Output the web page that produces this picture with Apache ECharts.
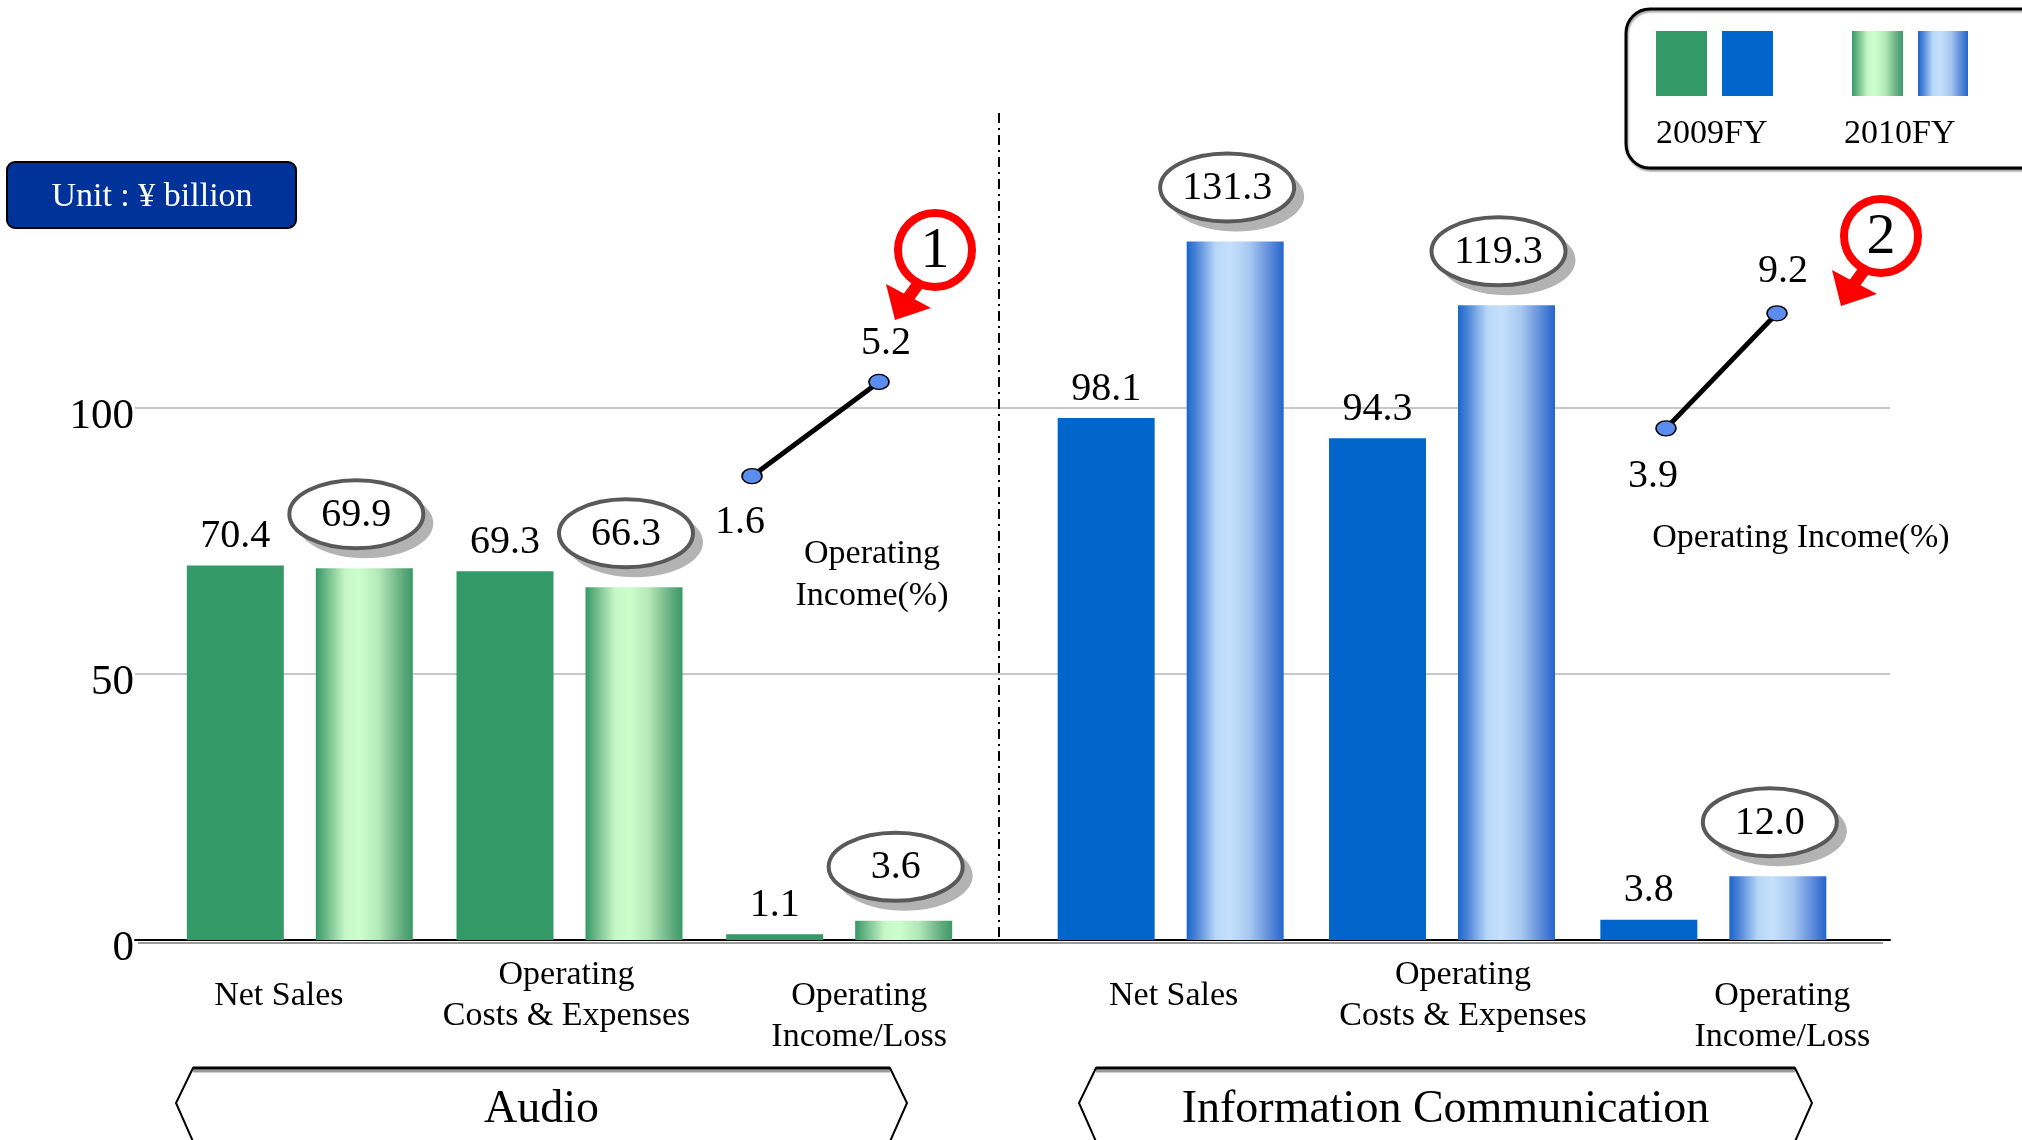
<!DOCTYPE html>
<html><head><meta charset="utf-8">
<script src="https://cdn.jsdelivr.net/npm/echarts@6/dist/echarts.min.js"></script>
<style>html,body{margin:0;padding:0;background:#fff}#c{width:2022px;height:1140px}</style>
</head><body><div id="c"></div>
<script>
// ---- data ----
const categories = ['Net Sales', 'Operating\nCosts & Expenses', 'Operating\nIncome/Loss'];
const segments = ['Audio', 'Information Communication'];
const years = ['2009FY', '2010FY'];
const audio2009 = [70.4, 69.3, 1.1];
const audio2010 = [69.9, 66.3, 3.6];
const info2009 = [98.1, 94.3, 3.8];
const info2010 = [131.3, 119.3, 12.0];
const audioMargin = [1.6, 5.2];
const infoMargin = [3.9, 9.2];
const yTicks = [0, 50, 100];
const unitLabel = 'Unit : ¥ billion';
const marginLabel = 'Operating Income(%)';
const callouts = ['1', '2'];

// ---- styles ----
const FONT = "'Liberation Serif','Times New Roman',serif";
const G09 = '#339966', B09 = '#0066cc';
const G10 = {type:'linear', x:0, y:0, x2:1, y2:0, colorStops:[
  {offset:0, color:'#339966'}, {offset:0.08, color:'#5fb07f'}, {offset:0.3, color:'#c6f6c6'},
  {offset:0.45, color:'#ccffcc'}, {offset:0.65, color:'#b5e8b8'}, {offset:0.9, color:'#5ea97c'}, {offset:1, color:'#3a9a68'}]};
const B10 = {type:'linear', x:0, y:0, x2:1, y2:0, colorStops:[
  {offset:0, color:'#1a66cc'}, {offset:0.1, color:'#4d84d8'}, {offset:0.3, color:'#b8d8f8'},
  {offset:0.45, color:'#c4e0fc'}, {offset:0.65, color:'#a8c8f0'}, {offset:0.9, color:'#4d7fd6'}, {offset:1, color:'#2266cc'}]};
const BAR_W = 97, BAR_GAP_PX = 32;
const ELL_DX = (BAR_W + BAR_GAP_PX) / 2 - 8, ELL_DY = 54;

function ellipseItem(params, api) {
  const p = api.coord([api.value(0), api.value(1)]);
  const cx = p[0] + ELL_DX, cy = p[1] - ELL_DY;
  return {type:'group', children:[
    {type:'ellipse', shape:{cx:cx+9, cy:cy+9, rx:68, ry:35}, style:{fill:'#b3b3b3'}},
    {type:'ellipse', shape:{cx:cx, cy:cy, rx:67, ry:34}, style:{fill:'#fff', stroke:'#595959', lineWidth:4}},
    {type:'text', x:cx, y:cy+1, style:{text:api.value(1).toFixed(1), fontSize:40, fontFamily:FONT, fill:'#000', align:'center', verticalAlign:'middle'}}
  ]};
}

function catAxis(gridIndex, dx) {
  const rich = {};
  dx.forEach((d, i) => {
    rich['k' + i] = {fontSize:34, lineHeight:41, fontFamily:FONT, color:'#000',
      padding: d < 0 ? [0, -2*d, 0, 0] : [0, 0, 0, 2*d]};
  });
  return {gridIndex, type:'category', data:categories,
    axisLine:{show:false}, axisTick:{show:false},
    axisLabel:{interval:0, margin:56, verticalAlign:'middle', lineHeight:41, fontSize:34, fontFamily:FONT, color:'#000',
      formatter:(v, idx) => {
        const lines = v.split('\n');
        if (idx === 2) lines.unshift(' ');
        return lines.map(l => '{k' + idx + '|' + l + '}').join('\n');
      }, rich}};
}

function barSeries(xi, d09, d10, c09, c10) {
  return [
    {type:'bar', xAxisIndex:xi, yAxisIndex:xi, data:d09, barWidth:BAR_W, barGap:(BAR_GAP_PX/BAR_W*100)+'%',
      itemStyle:{color:c09}, label:{show:true, position:'top', distance:9, fontSize:40, fontFamily:FONT, color:'#000'}},
    {type:'bar', xAxisIndex:xi, yAxisIndex:xi, data:d10, barWidth:BAR_W, itemStyle:{color:c10}},
    {type:'custom', xAxisIndex:xi, yAxisIndex:xi, data:d10.map((v, i) => [i, v]), renderItem:ellipseItem, z:5}
  ];
}

function lineSeries(xi, vals, labelCfg) {
  return {type:'line', xAxisIndex:xi, yAxisIndex:xi,
    data: vals.map((v, i) => ({value:v, label:Object.assign({show:true, fontSize:40, fontFamily:FONT, color:'#000'}, labelCfg[i])})),
    symbol:'circle', symbolSize:[20, 15],
    lineStyle:{color:'#000', width:5},
    itemStyle:{color:'#5b8def', borderColor:'#000', borderWidth:1.5}, z:6};
}

function arrow(cx, cy) {
  return [
    {type:'circle', shape:{cx, cy, r:37}, style:{fill:'#fff', stroke:'#ff0000', lineWidth:8}, z:20},
    {type:'line', shape:{x1:cx-16, y1:cy+33, x2:cx-27, y2:cy+48}, style:{stroke:'#ff0000', lineWidth:12}, z:20},
    {type:'polygon', shape:{points:[[cx-40, cy+70], [cx-49, cy+34], [cx-4, cy+58]]}, style:{fill:'#ff0000'}, z:20}
  ];
}

function segBox(x1, x2, text) {
  return [
    {type:'polyline', shape:{points:[[x1+2, 1146], [x1-17, 1103], [x1, 1068], [x2, 1068], [x2+17, 1103], [x2-2, 1146]]},
      style:{stroke:'#000', lineWidth:2, fill:null}, z:10},
    {type:'line', shape:{x1:x1, y1:1071, x2:x2, y2:1071}, style:{stroke:'#999', lineWidth:3}, z:9},
    {type:'line', shape:{x1:x1, y1:1068, x2:x2, y2:1068}, style:{stroke:'#000', lineWidth:3}, z:10},
    {type:'text', x:(x1+x2)/2, y:1110, style:{text, fontSize:46, fontFamily:FONT, fill:'#000', align:'center', verticalAlign:'middle'}, z:10}
  ];
}

const chart = echarts.init(document.getElementById('c'));
chart.setOption({
  backgroundColor:'#fff',
  animation:false,
  grid:[
    {left:135, right:132, top:408, bottom:200},
    {left:165, width:809, top:142, bottom:200},
    {left:1035, width:814, top:142, bottom:200},
    {left:752, width:127, top:361, bottom:622},
    {left:1666, width:111, top:296, bottom:627}
  ],
  xAxis:[
    {gridIndex:0, type:'category', data:[''], axisLine:{show:true, lineStyle:{color:'#000', width:2}}, axisTick:{show:false}, axisLabel:{show:false}},
    catAxis(1, [-21, -3, 20]),
    catAxis(2, [3, 21, 69]),
    {gridIndex:3, type:'category', data:years, boundaryGap:false, show:false},
    {gridIndex:4, type:'category', data:years, boundaryGap:false, show:false}
  ],
  yAxis:[
    {gridIndex:0, type:'value', min:yTicks[0], max:yTicks[yTicks.length-1], interval:yTicks[1]-yTicks[0],
      axisLine:{show:false}, axisTick:{show:false},
      splitLine:{lineStyle:{color:'#c8c8c8', width:2}},
      axisLabel:{fontSize:43, fontFamily:FONT, color:'#000', margin:1, verticalAlign:'top', lineHeight:18}},
    {gridIndex:1, type:'value', min:0, max:150, show:false},
    {gridIndex:2, type:'value', min:0, max:150, show:false},
    {gridIndex:3, type:'value', min:0, max:6, show:false},
    {gridIndex:4, type:'value', min:0, max:10, show:false}
  ],
  series:[
    ...barSeries(1, audio2009, audio2010, G09, G10),
    ...barSeries(2, info2009, info2010, B09, B10),
    lineSeries(3, audioMargin, [{position:'bottom', distance:18, offset:[-12,0]}, {position:'top', distance:10, offset:[7,0]}]),
    lineSeries(4, infoMargin, [{position:'bottom', distance:20, offset:[-13,0]}, {position:'top', distance:14, offset:[6,0]}])
  ],
  graphic:[
    // unit box
    {type:'rect', shape:{x:7, y:162, width:289, height:66, r:8}, style:{fill:'#003399', stroke:'#000', lineWidth:2}, z:10},
    {type:'text', x:152, y:197, style:{text:unitLabel, fontSize:34, fontFamily:FONT, fill:'#fff', align:'center', verticalAlign:'middle'}, z:11},
    // legend
    {type:'rect', shape:{x:1626, y:9, width:430, height:159, r:24}, style:{fill:'#fff', stroke:'#000', lineWidth:3, shadowColor:'rgba(0,0,0,0.35)', shadowOffsetY:2, shadowOffsetX:1, shadowBlur:2}, z:10},
    {type:'rect', shape:{x:1656, y:31, width:51, height:65}, style:{fill:G09}, z:11},
    {type:'rect', shape:{x:1722, y:31, width:51, height:65}, style:{fill:B09}, z:11},
    {type:'rect', shape:{x:1852, y:31, width:51, height:65}, style:{fill:G10}, z:11},
    {type:'rect', shape:{x:1918, y:31, width:50, height:65}, style:{fill:B10}, z:11},
    {type:'text', x:1656, y:134, style:{text:years[0], fontSize:34, fontFamily:FONT, fill:'#000', align:'left', verticalAlign:'middle'}, z:11},
    {type:'text', x:1844, y:134, style:{text:years[1], fontSize:34, fontFamily:FONT, fill:'#000', align:'left', verticalAlign:'middle'}, z:11},
    // divider
    {type:'line', shape:{x1:999, y1:113, x2:999, y2:938}, style:{stroke:'#000', lineWidth:2, lineDash:[10,5,2,5]}, z:3},
    // shadow under baseline
    {type:'line', shape:{x1:138, y1:943, x2:1883, y2:943}, style:{stroke:'#9a9a9a', lineWidth:2}, z:1},
    // margin captions
    {type:'text', x:872, y:575, style:{text:'Operating\nIncome(%)', fontSize:34, lineHeight:42, fontFamily:FONT, fill:'#000', align:'center', verticalAlign:'middle'}, z:10},
    {type:'text', x:1801, y:538, style:{text:marginLabel, fontSize:34, fontFamily:FONT, fill:'#000', align:'center', verticalAlign:'middle'}, z:10},
    // callouts
    ...arrow(935, 250),
    {type:'text', x:935, y:252, style:{text:callouts[0], fontSize:58, fontFamily:FONT, fill:'#000', align:'center', verticalAlign:'middle'}, z:21},
    ...arrow(1881, 236),
    {type:'text', x:1881, y:238, style:{text:callouts[1], fontSize:58, fontFamily:FONT, fill:'#000', align:'center', verticalAlign:'middle'}, z:21},
    // segment boxes
    ...segBox(193, 890, segments[0]),
    ...segBox(1096, 1795, segments[1])
  ]
});
</script>
</body></html>
